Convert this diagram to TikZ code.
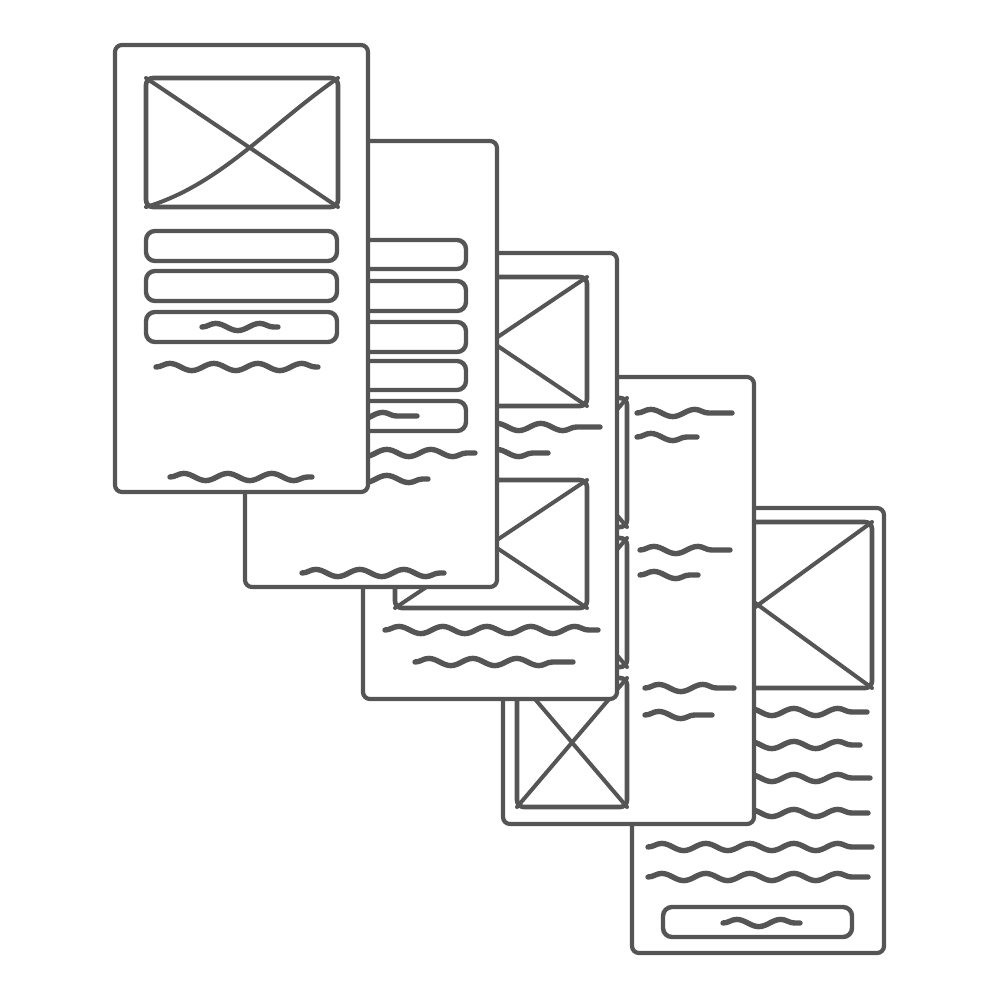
\documentclass[tikz,border=0pt]{standalone}
\usetikzlibrary{decorations.pathmorphing}
\definecolor{ink}{HTML}{555555}
\tikzset{
  card/.style={draw=ink, line width=4.2pt, fill=white, rounded corners=7pt},
  imgbox/.style={draw=ink, line width=4.6pt, fill=white, rounded corners=7pt},
  xline/.style={draw=ink, line width=4pt, line cap=round},
  bar/.style={draw=ink, line width=4.4pt, fill=white, rounded corners=9pt},
  wave/.style={draw=ink, line width=5.4pt, line cap=round, line join=round,
    decorate, decoration={snake, segment length=44pt, amplitude=3.6pt, post length=2pt}},
}
\newcommand\wv[3]{\draw[wave] (#1,#3) -- (#2,#3);}
\newcommand\imgx[4]{%
  \draw[imgbox] (#1,#2) rectangle (#3,#4);
  \draw[xline] (#1,#2) -- (#3,#4);
  \draw[xline] (#3,#2) -- (#1,#4);}
\begin{document}
\begin{tikzpicture}[x=1pt,y=-1pt]
\useasboundingbox (0,0) rectangle (1000,1000);
% card 5
\draw[card] (632,508) rectangle (884,953);
\imgx{644}{522}{872}{688}
\wv{648}{867}{712}
\wv{648}{860}{745}
\wv{648}{870}{778}
\wv{648}{868}{813}
\wv{648}{872}{847}
\wv{648}{868}{877}
\draw[bar] (663,907) rectangle (852,937);
\wv{723}{800}{923}
% card 4
\draw[card] (503,377) rectangle (754,824);
\imgx{517}{398}{627}{527}
\imgx{517}{538}{627}{667}
\imgx{517}{678}{627}{807}
\wv{637}{732}{413}
\wv{637}{697}{437}
\wv{640}{730}{550}
\wv{640}{698}{575}
\wv{645}{734}{688}
\wv{645}{712}{715}
% card 3
\draw[card] (363,253) rectangle (617,699);
\imgx{395}{277}{587}{406}
\wv{395}{600}{427}
\wv{395}{548}{453}
\imgx{395}{480}{587}{608}
\wv{385}{598}{630}
\wv{415}{573}{662}
% card 2
\draw[card] (245,141) rectangle (497,587);
\draw[bar] (276,240) rectangle (466,269);
\draw[bar] (276,281) rectangle (466,311);
\draw[bar] (276,322) rectangle (466,352);
\draw[bar] (276,361) rectangle (466,390);
\draw[bar] (276,401) rectangle (466,431);
\wv{325}{417}{416}
\wv{285}{475}{453}
\wv{285}{428}{479}
\wv{302}{444}{573}
% card 1
\draw[card] (115,45) rectangle (368,492);
\draw[imgbox] (146,78) rectangle (338,207);
\draw[xline] (146,78) -- (338,207);
\draw[xline] (338,78) .. controls (270,125) and (220,185) .. (146,207);
\draw[bar] (146,231) rectangle (337,261);
\draw[bar] (146,271) rectangle (337,301);
\draw[bar] (146,312) rectangle (337,342);
\wv{202}{278}{327}
\wv{156}{318}{367}
\wv{170}{312}{477}
\end{tikzpicture}
\end{document}
